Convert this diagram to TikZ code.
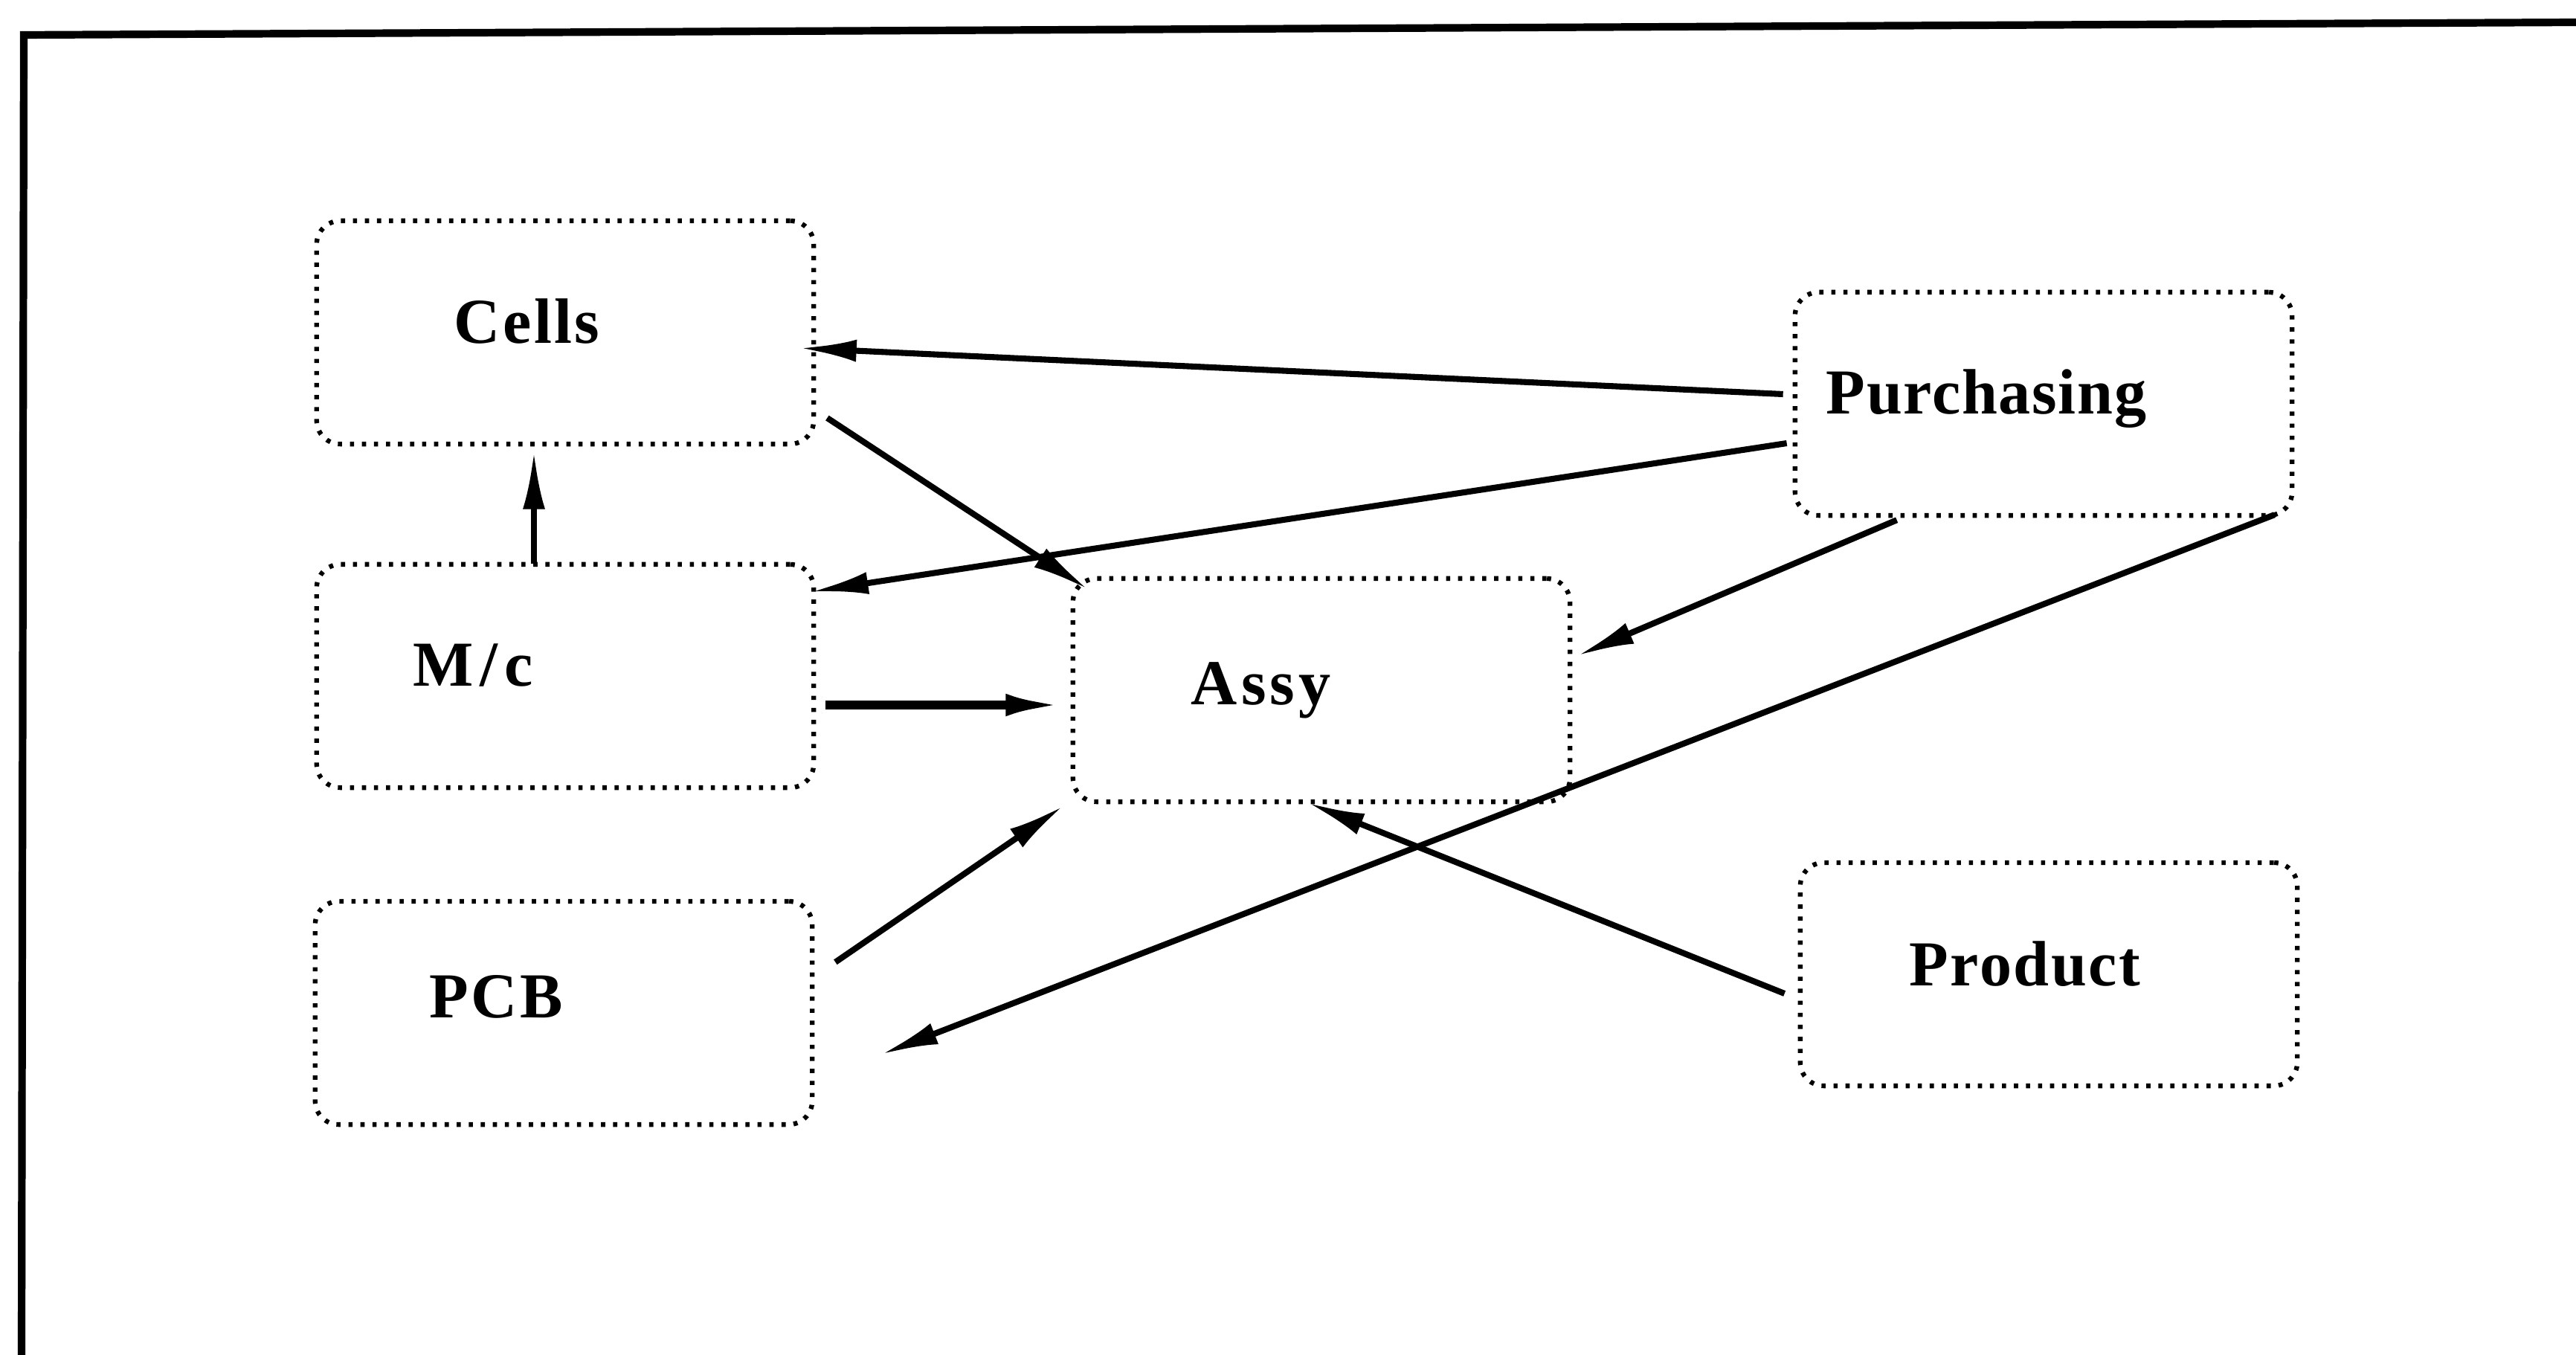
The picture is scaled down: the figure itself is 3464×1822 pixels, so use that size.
\documentclass[tikz,border=0pt]{standalone}
\usepackage{fontspec}
\setmainfont{Liberation Serif}
\usetikzlibrary{arrows.meta}
\usetikzlibrary{positioning}

\def\spaced#1#2{{\addfontfeature{LetterSpace=#1}#2}}

\begin{document}
\begin{tikzpicture}[x=0.01cm, y=-0.01cm,
  >={Latex[length=22pt, width=8.5pt]},
  unit/.style={draw, rounded corners=9pt, line width=1.8pt,
    dash pattern=on 1.6pt off 3pt,
    minimum width=6.68cm, minimum height=3.0cm, inner sep=0pt},
  tag/.style={anchor=base west, inner sep=0pt,
    font=\fontsize{24.5}{29}\selectfont\bfseries},
  flow/.style={->, line width=2.3pt}]

\useasboundingbox (0,0) rectangle (3464,1822);

% outer frame
\draw[line width=2.9pt] (29,1822) -- (32,47) -- (3464,30);

% boxes
\node[unit] (cells)   at ( 760, 447) {};
\node[unit] (mc)      at ( 760, 909) {};
\node[unit] (pcb)     at ( 758,1362) {};
\node[unit] (assy)    at (1777, 928) {};
\node[unit] (purch)   at (2748, 543) {};
\node[unit] (product) at (2755,1310) {};

% box texts
\node[tag] (tcells)   at ( 610, 462) {\spaced{4}{Cells}};
\node[tag] (tmc)      at ( 555, 922) {\spaced{10}{M/c}};
\node[tag] (tpcb)     at ( 577,1368) {\spaced{4}{PCB}};
\node[tag] (tassy)    at (1601, 947) {\spaced{6}{Assy}};
\node[tag] (tpurch)   at (2455, 557) {\spaced{2}{Purchasing}};
\node[tag] (tproduct) at (2567,1325) {\spaced{3}{Product}};

% arrows out of Purchasing
\draw[flow] ([shift={(-13,-13)}]purch.west) -- ([shift={(-23,21)}]cells.east);
\draw[flow] ([shift={(-8,53)}]purch.west) -- ([shift={(-7,40)}]mc.north east);
\draw[flow] ([shift={(140,3)}]purch.south west) -- ([shift={(6,-46)}]assy.east);
\draw[flow] ([shift={(-27,-4)}]purch.south east) -- ([shift={(89,56)}]pcb.east);

% arrows into Assy
\draw[flow] ([shift={(15,115)}]cells.east) -- ([shift={(24,18)}]assy.north west);
\draw[flow, line width=3.2pt] ([shift={(13,39)}]mc.east) -- ([shift={(-10,20)}]assy.west);
\draw[flow] ([shift={(28,85)}]pcb.north east) -- ([shift={(-9,2)}]assy.south west);
\draw[flow] ([shift={(-18,26)}]product.west) -- ([shift={(-19,-2)}]assy.south);

% M/c up to Cells
\draw[flow, line width=2pt] ([shift={(-42,2)}]mc.north) -- ([shift={(-42,7)}]cells.south);

\end{tikzpicture}
\end{document}
